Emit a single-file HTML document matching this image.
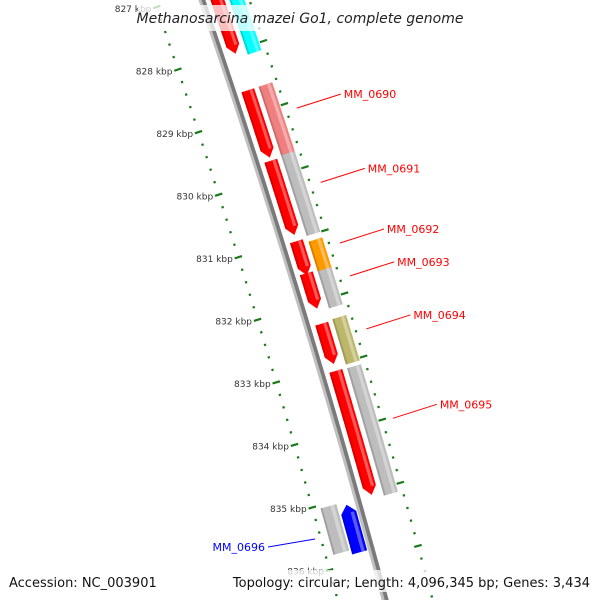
<!DOCTYPE html>
<html><head><meta charset="utf-8"><style>
html,body{margin:0;padding:0;background:#fff;overflow:hidden;width:600px;height:600px}
svg{display:block;overflow:hidden;font-family:"DejaVu Sans","Liberation Sans",sans-serif}
</style></head><body>
<svg id="map" width="600" height="600" viewBox="0 0 600 600">
<defs><clipPath id="frame"><rect x="0" y="0" width="600" height="600"/></clipPath></defs>
<g clip-path="url(#frame)">
<g id="ticks"></g>
<g id="backbone"></g>
<g id="genes"></g>
<g id="labels"></g>
</g>
<rect x="138" y="5" width="326" height="26" fill="#fff" fill-opacity="0.75"/>
<text x="300" y="23" text-anchor="middle" font-size="14" font-style="italic" fill="#222">Methanosarcina mazei Go1, complete genome</text>
<rect x="4" y="570" width="152" height="22" fill="#fff" fill-opacity="0.75"/>
<text x="9" y="587" font-size="13" fill="#111">Accession: NC_003901</text>
<rect x="255" y="570" width="340" height="22" fill="#fff" fill-opacity="0.75"/>
<text x="590" y="587" text-anchor="end" font-size="13" fill="#111">Topology: circular; Length: 4,096,345 bp; Genes: 3,434</text>
</svg>
<script>
const tickKbp = [827, 828, 829, 830, 831, 832, 833, 834, 835, 836];
const geneNames = ["", "", "MM_0690", "", "MM_0691", "", "MM_0692", "", "MM_0693", "", "MM_0694", "", "MM_0695", "", "MM_0696", ""];
const geneStart = [826.3, 826.3, 828.63, 828.63, 829.75, 829.72, 831.03, 831.09, 831.54, 831.56, 832.34, 832.32, 833.09, 833.1, 835.1, 835.05];
const geneEnd = [828.05, 828.12, 829.70, 829.75, 830.93, 831.0, 831.57, 831.6, 832.10, 832.15, 832.98, 833.04, 835.06, 835.12, 835.86, 835.79];
const geneTrack = ["fi", "fo", "fi", "fo", "fi", "fo", "fi", "fo", "fi", "fo", "fi", "fo", "fi", "fo", "ri", "ro"];
const geneColor = ["#ff0000", "#00ffff", "#ff0000", "#f08080", "#ff0000", "#bdbdbd", "#ff0000", "#ff9900", "#ff0000", "#bdbdbd", "#ff0000", "#bdb76b", "#ff0000", "#bdbdbd", "#0000ff", "#bdbdbd"];

const NS = "http://www.w3.org/2000/svg";
function yOf(k){ return 7 + (k - 827) * 62.56; }
function P(k, h){
  const y = yOf(k);
  const x = 154.4 + 0.3418*y - 6.06e-5*y*y;
  const s = 0.3418 - 1.212e-4*y;
  const f = 1/(1+s*s);
  return [x + h*f, y - h*s*f];
}
function mk(tag, attrs, parent){
  const e = document.createElementNS(NS, tag);
  for (const a in attrs) e.setAttribute(a, attrs[a]);
  parent.appendChild(e);
  return e;
}
function band(a, b, h1, h2){
  const pts = [];
  const n = 20;
  for (let i=0;i<=n;i++){ pts.push(P(a+(b-a)*i/n, h1)); }
  for (let i=n;i>=0;i--){ pts.push(P(a+(b-a)*i/n, h2)); }
  return pts.map(p=>p[0].toFixed(1)+","+p[1].toFixed(1)).join(" ");
}
function shade(c, f){
  const r=parseInt(c.substr(1,2),16),g=parseInt(c.substr(3,2),16),b=parseInt(c.substr(5,2),16);
  const m=v=>Math.round(f>0? v+(255-v)*f : v*(1+f));
  return "rgb("+m(r)+","+m(g)+","+m(b)+")";
}

const tg = document.getElementById("ticks");
for (let k=826.4;k<=836.9;k+=0.2){
  const kr = Math.round(k*10)/10;
  const major = Math.abs(kr-Math.round(kr))<0.01;
  [0,95].forEach(h=>{
    const len = major?4:1.2;
    const a=P(kr,h-len), b=P(kr,h+len);
    if (a[1] > 604 || a[1] < -4) return;
    const l = mk("line",{x1:a[0],y1:a[1],x2:b[0],y2:b[1],stroke:"#1a7a1a","stroke-width":2.2},tg);
    
    
  });
}
tickKbp.forEach(k=>{
  const p = P(k,-6);
  const t = mk("text",{x:p[0],y:p[1]+3,"text-anchor":"end","font-size":9,fill:"#333"},tg);
  t.textContent = k + " kbp";
  
  
});

const bb = document.getElementById("backbone");
const b1 = mk("polygon",{points:band(826.5,836.8,44,47),fill:"#c0c0c0"},bb);


const b2 = mk("polygon",{points:band(826.5,836.8,47,51),fill:"#7a7a7a"},bb);



const trackH = {fi:[56,70], fo:[75,90], ri:[27,43], ro:[8,25]};
const gg = document.getElementById("genes");
const lg = document.getElementById("labels");
geneStart.forEach((a,i)=>{
  const b = geneEnd[i], tr = geneTrack[i], col = geneColor[i];
  const [h1,h2] = trackH[tr];
  const g = mk("g",{},gg);
  
  
  let pts;
  const arrowLen = 0.13;
  if (tr==="fi"){
    const body = band(a, b-arrowLen, h1, h2).split(" ");
    const half = body.length/2;
    const tip = P(b,(h1+h2)/2);
    pts = body.slice(0,half).concat([tip[0].toFixed(1)+","+tip[1].toFixed(1)]).concat(body.slice(half)).join(" ");
  } else if (tr==="ri"){
    const body = band(a+arrowLen, b, h1, h2).split(" ");
    const tip = P(a,(h1+h2)/2);
    pts = body.concat([tip[0].toFixed(1)+","+tip[1].toFixed(1)]).join(" ");
  } else {
    pts = band(a,b,h1,h2);
  }
  mk("polygon",{points:pts,fill:col},g);
  const hs = h1 + (h2-h1)*0.62, he = h1 + (h2-h1)*0.85;
  const e = tr==="fi"? b-arrowLen : b;
  const st = tr==="ri"? a+arrowLen : a;
  mk("polygon",{points:band(st,e,hs,he),fill:shade(col,0.35)},g);
  mk("polygon",{points:band(st,e,h1,h1+2),fill:shade(col,-0.15)},g);
});

const labelIdx = [2,4,6,8,10,12];
labelIdx.forEach(i=>{
  const mid = (geneStart[i]+geneEnd[i])/2 - 0.05;
  const p = P(mid, 106);
  const q = [p[0]+44, p[1]-14];
  const l = mk("line",{x1:p[0],y1:p[1],x2:q[0],y2:q[1],stroke:"#ff0000","stroke-width":1},lg);
  
  
  const t = mk("text",{x:q[0]+3,y:q[1]+4,"font-size":11,fill:"#ff0000"},lg);
  t.textContent = geneNames[i];
  
  
});
{
  const i = 14;
  const mid = (geneStart[i]+geneEnd[i])/2;
  const p = P(mid, -6);
  const q = [p[0]-47, p[1]+8];
  const l = mk("line",{x1:p[0],y1:p[1],x2:q[0],y2:q[1],stroke:"#0000ff","stroke-width":1},lg);
  
  
  const t = mk("text",{x:q[0]-3,y:q[1]+4,"font-size":11,fill:"#0000ff","text-anchor":"end"},lg);
  t.textContent = geneNames[i];
  
  
}
</script>
</body></html>
